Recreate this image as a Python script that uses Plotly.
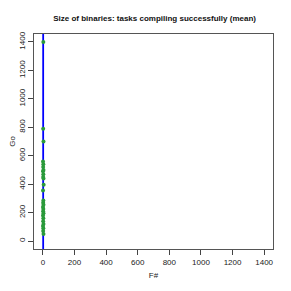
import plotly.graph_objects as go

# Binary sizes (mean) for tasks compiling successfully
fsharp = [3, 2, 4, 1, 3, 2, 4, 1, 3, 2, 4, 5, 1, 3, 2, 4, 1, 3, 2, 4, 1, 3, 2, 4, 1, 3, 2, 4]
golang = [1400, 790, 700, 560, 540, 520, 500, 490, 470, 450, 440, 395, 355,
          285, 270, 255, 240, 225, 210, 195, 180, 160, 140, 120, 105, 90, 70, 50]
fit_x = [2, 2]
fit_y = [-100, 1600]
ticks = [0, 200, 400, 600, 800, 1000, 1200, 1400]

fig = go.Figure()
fig.add_trace(go.Scatter(x=fit_x, y=fit_y, mode="lines",
                         line=dict(color="#0000ff", width=1.8), showlegend=False))
fig.add_trace(go.Scatter(x=fsharp, y=golang, mode="markers",
                         marker=dict(color="#2a9a3a", size=4), showlegend=False))

font = dict(family="Liberation Sans, Arial", size=8, color="#222")
axis_common = dict(
    range=[-56, 1456], tickvals=ticks, ticks="outside", ticklen=5,
    tickcolor="#444", showgrid=False, zeroline=False, showline=True,
    linecolor="#555", linewidth=1, mirror=True, automargin=False,
    tickfont=font,
)
fig.update_xaxes(**axis_common, title=dict(text="F#", font=font, standoff=6))
fig.update_yaxes(**axis_common, tickangle=-90, title=dict(text="Go", font=font, standoff=3))

# page body adds an 8px offset, so the figure is sized to fit the 291px window
fig.update_layout(
    width=283, height=283,
    margin=dict(l=26, r=18, t=26, b=42),
    paper_bgcolor="white", plot_bgcolor="white",
    title=dict(text="<b>Size of binaries: tasks compiling successfully (mean)</b>",
               font=dict(family="Liberation Sans, Arial", size=8, color="#111"),
               x=0.518, xanchor="center", y=0.965, yanchor="middle"),
)
fig.write_html("out.html")
